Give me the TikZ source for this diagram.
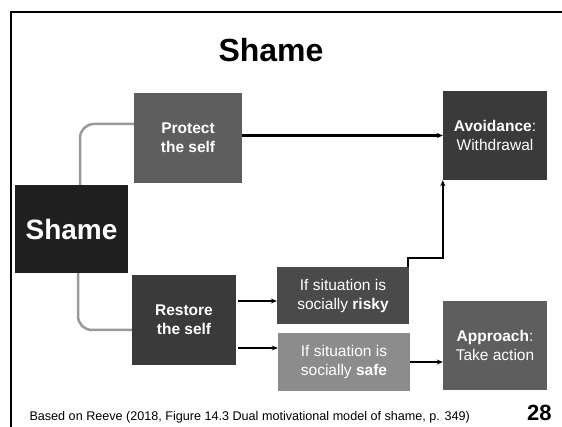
\documentclass[tikz,border=0pt]{standalone}
\usepackage{fontspec}
\setmainfont{Liberation Sans}
\usetikzlibrary{arrows.meta,calc}

\definecolor{boxdark}{HTML}{1F1F1F}
\definecolor{boxmid}{HTML}{3A3A3A}
\definecolor{boxrisky}{HTML}{4A4A4A}
\definecolor{boxgrey}{HTML}{5E5E5E}
\definecolor{boxlight}{HTML}{8C8C8C}
\definecolor{branch}{HTML}{999999}

\begin{document}
\begin{tikzpicture}[x=1pt,y=-1pt,
  box/.style={rectangle,text=white,align=center,inner sep=0pt,
    font=\fontsize{15.5}{19}\selectfont},
  flow/.style={-{Stealth[length=6pt,width=5pt]},line width=2.2pt},
  fork/.style={draw=branch,line width=2.5pt,rounded corners=14pt}]
\useasboundingbox (0,0) rectangle (562,427);
\draw[line width=2pt] (11,427) -- (11,12) -- (562,12);
\node (title) [anchor=base,font=\fontsize{32}{38}\selectfont\bfseries] at (271,62) {Shame};

\node (shame) [box,fill=boxdark,minimum width=113pt,minimum height=88pt,
  font=\fontsize{28}{32}\selectfont\bfseries] at (71.5,229) {Shame};
\node (protect) [box,fill=boxgrey,minimum width=108pt,minimum height=90pt,
  font=\fontsize{15.5}{19}\selectfont\bfseries] at (188,138) {Protect\\the self};
\node (restore) [box,fill=boxmid,minimum width=104pt,minimum height=90pt,
  font=\fontsize{15.5}{19}\selectfont\bfseries] at (184,320) {Restore\\the self};
\node (risky) [box,fill=boxrisky,minimum width=132pt,minimum height=57pt]
  at (343,296) {If situation is\\socially \textbf{risky}};
\node (safe) [box,fill=boxlight,minimum width=132pt,minimum height=57pt]
  at (344,362) {If situation is\\socially \textbf{safe}};
\node (avoid) [box,fill=boxmid,minimum width=104pt,minimum height=89pt]
  at (495,135.5) {\textbf{Avoidance}:\\Withdrawal};
\node (approach) [box,fill=boxgrey,minimum width=104pt,minimum height=89pt]
  at (495,345.5) {\textbf{Approach}:\\Take action};

\draw[fork] ([xshift=8.5pt]shame.north) |- ([yshift=14pt]protect.west);
\draw[fork] ([xshift=6.5pt]shame.south) |- ([yshift=-10pt]restore.west);

\draw[flow] (protect.east |- avoid.west) -- (avoid.west);
\draw[flow] ($(restore.east |- risky.west)+(2,5)$) -- ($(risky.west)+(0,5)$);
\draw[flow] ($(restore.east |- safe.west)+(2,-14)$) -- ($(safe.west)+(0,-14)$);
\draw[flow] ([xshift=-1pt]risky.north east) -- ++(0,-9) -| (avoid.south west);
\draw[flow] (safe.east) -- (safe.east -| approach.west);

\node (source) [anchor=base west,font=\fontsize{12.6}{15}\selectfont] at (26,420)
  {Based on Reeve (2018, Figure 14.3 Dual motivational model of shame, p. 349)};
\node (page) [anchor=base west,font=\fontsize{22}{26}\selectfont\bfseries,inner sep=0pt]
  at (527,420) {28};
\end{tikzpicture}
\end{document}
